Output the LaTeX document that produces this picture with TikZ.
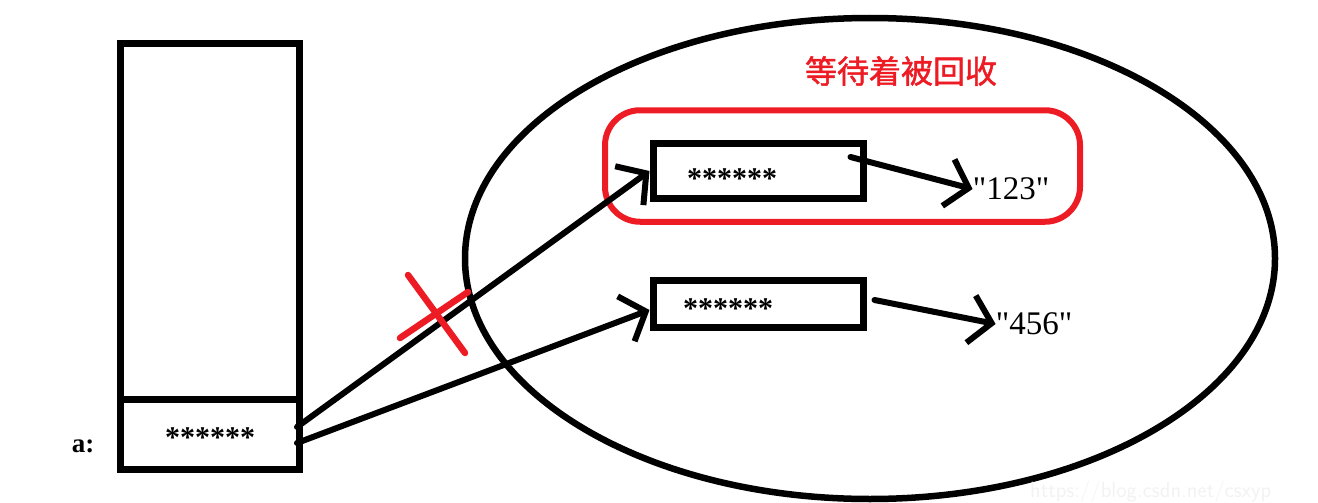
\documentclass[tikz,border=0pt]{standalone}
\usepackage{fontspec}
\setmainfont{Liberation Serif}
\newfontfamily\cjk[FakeBold=1.5]{Noto Sans CJK SC}
\usetikzlibrary{shapes.geometric,arrows.meta}
\definecolor{gcred}{RGB}{237,28,36}

\begin{document}
\begin{tikzpicture}[x=1pt, y=-1pt, >={Straight Barb[length=21pt,width=48pt]}]
\tikzset{
  cell/.style={draw, line width=7pt, inner sep=0pt},
  stars/.style={inner sep=0pt, font=\bfseries\fontsize{30}{32}\selectfont},
  strval/.style={inner sep=0pt, font=\fontsize{33}{36}\selectfont},
  ptr/.style={->, line width=6pt, line cap=round}
}
\useasboundingbox (0,0) rectangle (1318,503);

% stack
\node [cell, minimum width=179pt, minimum height=425pt] (stack) at (210,256.5) {};
\node [cell, minimum width=179pt, minimum height=70pt] (slot) at (210,434) {};
\node [stars] (slot-stars) at (210,438) {******};
\node [inner sep=0pt, font=\bfseries\fontsize{27}{29}\selectfont] (name-a) at (83,446) {a:};

% heap
\node [draw, ellipse, line width=6.5pt, minimum width=810pt, minimum height=481pt] (heap) at (870,258.5) {};
\node [draw=gcred, line width=6pt, rounded corners=35pt, minimum width=475pt, minimum height=111.5pt] (gcbox) at (842.5,166) {};
\node [text=gcred, inner sep=0pt, font=\cjk\fontsize{32}{34}\selectfont] (gc-label) at (901,71) {等待着被回收};

\foreach \n/\y/\h in {A/171/55.5, B/304/47.5}
  \node [cell, minimum width=210pt, minimum height=\h pt] (obj-\n) at (758,\y) {};
\node [stars] (stars-A) at (732,179) {******};
\node [stars] (stars-B) at (728,309) {******};
\node [strval] (str-A) at (1011,189) {\textquotedbl 123\textquotedbl};
\node [strval] (str-B) at (1034,324) {\textquotedbl 456\textquotedbl};

% arrows
\draw [ptr] ([xshift=-6pt,yshift=7pt]slot.east) -- (obj-A.west);
\draw [ptr] ([xshift=-6pt,yshift=-9pt]slot.east) -- ([yshift=-6pt]obj-B.west);
\draw [ptr] ([xshift=-16pt,yshift=14pt]obj-A.east) -- (str-A.west);
\draw [ptr] ([xshift=8pt,yshift=4pt]obj-B.east) -- (str-B.west);

% cut reference
\coordinate (cut) at (435,313);
\draw [gcred, line width=6.5pt, line cap=round] ([shift={(-27,-38)}]cut) -- ([shift={(30,40)}]cut);
\draw [gcred, line width=6.5pt, line cap=round] ([shift={(-35,25)}]cut) -- ([shift={(33,-21)}]cut);

\node [anchor=west, text=black!5, inner sep=0pt, font=\sffamily\fontsize{22}{24}\selectfont] (mark) at (1030,492) {https://blog.csdn.net/csxyp};
\end{tikzpicture}
\end{document}
